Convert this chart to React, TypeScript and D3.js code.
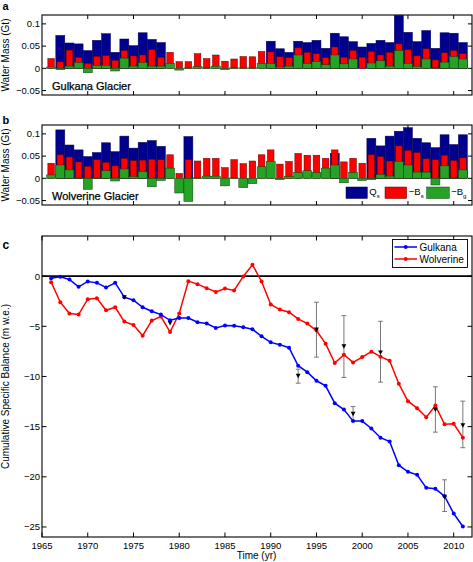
import React from "react";
import * as d3 from "d3";

// ---------- DATA ----------
const years: number[] = d3.range(1966, 2012);

// Panel a: Gulkana Glacier (Gt)
const gulkanaQs: (number | null)[] = [
  null, 0.074, 0.057, 0.055, 0.040, 0.063, 0.078, 0.036, 0.066, 0.051, 0.080, 0.065, 0.058,
  null, null, null, null, null, null, null, null, null, null, null,
  0.061, 0.044, 0.036, 0.061, 0.058, 0.063, 0.045, 0.079, 0.071, 0.060, 0.048,
  0.056, 0.063, 0.058, 0.119, 0.081, 0.060, 0.085, 0.045, 0.080, 0.079, 0.058,
];
const gulkanaBs: number[] = [
  0.022, 0.0145, 0.041, 0.025, 0.011, 0.027, 0.029, 0.018, 0.040, 0.028,
  0.030, 0.042, 0.025, 0.036, 0.015, 0.015, 0.033, 0.022, 0.030, 0.016,
  0.021, 0.0265, 0.026, 0.038, 0.037, 0.026, 0.024, 0.046, 0.036, 0.033,
  0.024, 0.048, 0.025, 0.040, 0.025, 0.038, 0.030, 0.036, 0.055, 0.042,
  0.028, 0.044, 0.019, 0.035, 0.040, 0.033,
];
const gulkanaBg: number[] = [
  0.003, -0.003, 0.005, 0.013, -0.010, 0.006, 0.007, -0.006, 0.023, 0.005,
  0.013, 0.005, 0.005, 0.011, -0.004, 0.001, 0.004, 0.001, 0.005, -0.003,
  0.001, 0.001, 0.001, 0.011, 0.011, 0.003, 0.005, 0.030, 0.011, 0.015,
  0.008, 0.030, 0.010, 0.021, 0.0, 0.012, 0.017, 0.005, 0.040, 0.011,
  0.004, 0.021, 0.001, 0.014, 0.0265, 0.021,
];

// Panel b: Wolverine Glacier (Gt)
const wolverineQs: (number | null)[] = [
  null, 0.109, 0.075, 0.064, 0.049, 0.058, 0.080, 0.060, 0.095, 0.068, 0.081, 0.085, 0.072,
  null, null, 0.094,
  null, null, null, null, null, null, null, null, null, null, null, null, null, null, null,
  0.056, null, null, null,
  0.090, 0.073, 0.095, 0.106, 0.114, 0.090, 0.080, 0.069, 0.098, 0.076, 0.098,
];
const wolverineBs: number[] = [
  0.034, 0.053, 0.048, 0.037, 0.027, 0.042, 0.036, 0.028, 0.045, 0.040,
  0.041, 0.043, 0.042, 0.053, 0.011, 0.042, 0.039, 0.045, 0.045, 0.024,
  0.042, 0.033, 0.039, 0.053, 0.064, 0.032, 0.038, 0.056, 0.052, 0.052,
  0.045, 0.064, 0.037, 0.045, 0.034, 0.053, 0.049, 0.039, 0.073, 0.063,
  0.058, 0.044, 0.042, 0.052, 0.040, 0.046,
];
const wolverineBg: number[] = [
  0.0076, 0.030, 0.019, 0.001, -0.025, 0.001, 0.017, -0.006, 0.021, 0.004,
  0.015, -0.019, -0.005, 0.023, -0.033, -0.052, 0.001, 0.005, 0.005, -0.017,
  0.001, -0.021, -0.012, 0.026, 0.038, -0.003, 0.004, 0.013, 0.017, 0.013,
  0.023, 0.030, -0.010, 0.013, -0.005, -0.003, 0.009, 0.005, 0.038, 0.030,
  0.014, 0.014, -0.015, 0.028, 0.001, 0.019,
];

// Panel c: cumulative specific balance (m w.e.)
const gulkanaCum: number[] = [
  -0.2, -0.07, -0.33, -1.07, -0.53, -0.67, -1.13, -0.67, -2.1, -2.4,
  -3.1, -3.5, -3.83, -4.4, -4.17, -4.17, -4.6, -4.73, -5.17, -4.93,
  -4.95, -5.1, -5.3, -6.0, -6.6, -6.83, -7.13, -8.93, -9.57, -10.43,
  -10.93, -12.66, -13.3, -14.45, -14.45, -15.18, -16.1, -16.48, -18.84, -19.5,
  -19.8, -21.1, -21.2, -21.93, -23.66, -24.95,
];
const wolverineCum: number[] = [
  -0.6, -2.6, -3.73, -3.83, -2.3, -2.2, -3.4, -3.1, -4.53, -4.87,
  -5.93, -4.43, -4.03, -5.57, -3.73, -0.5, -0.8, -1.2, -1.57, -1.23,
  -1.42, -0.03, 1.13, -0.53, -2.83, -3.33, -3.6, -4.27, -4.73, -5.43,
  -6.73, -8.67, -7.83, -8.6, -8.07, -7.53, -8.03, -8.43, -10.73, -12.46,
  -13.16, -14.06, -12.9, -14.76, -14.72, -16.1,
];

// Geodetic estimates with error bars
const geoYears: number[] = [1974, 1979, 1993, 1995, 1998, 1999, 2002, 2008, 2009, 2011];
const geoValues: number[] = [-2.1, -4.67, -9.93, -5.33, -7.0, -13.72, -7.6, -13.3, -22.0, -14.86];
const geoLower: number[] = [-2.1, -4.67, -10.67, -8.07, -10.1, -14.45, -10.57, -15.55, -23.46, -17.1];
const geoUpper: number[] = [-2.1, -4.67, -9.27, -2.6, -3.93, -13.0, -4.5, -11.03, -20.3, -12.46];

const massTicks: number[] = [-0.05, 0, 0.05, 0.1];
const massTickLabels: string[] = ["\u22120.05", "0", "0.05", "0.1"];
const yearTicks: number[] = [1965, 1970, 1975, 1980, 1985, 1990, 1995, 2000, 2005, 2010];
const cumTicks: number[] = [-25, -20, -15, -10, -5, 0];
const cumTickLabels: string[] = ["\u221225", "\u221220", "\u221215", "\u221210", "\u22125", "0"];

// ---------- STYLE ----------
const FONT = "'Liberation Sans', Arial, Helvetica, sans-serif";
const BLUE_BAR = "#00008e";
const RED_BAR = "#ff0000";
const GREEN_BAR = "#26a326";
const LINE_BLUE = "#0000ff";
const LINE_RED = "#ff0000";

const X0 = 42;
const X1 = 472;
const x = d3.scaleLinear().domain([1965, 2012]).range([X0, X1]);
const step = x(1966) - x(1965);

function BarPanel({
  top, bottom, qs, bs, bg, name, labelY, letter, letterY,
}: {
  top: number; bottom: number; qs: (number | null)[]; bs: number[]; bg: number[];
  name: string; labelY: number; letter: string; letterY: number;
}) {
  const y = d3.scaleLinear().domain([-0.06, 0.12]).range([bottom, top]);
  const y0 = y(0);
  const wFull = step * 0.98;
  const wRed = step * 0.72;
  const rect = (yr: number, v: number, w: number, fill: string, stroke: string, key: string) => {
    const yv = y(v);
    return (
      <rect key={key} x={x(yr) - w / 2} y={Math.min(yv, y0)} width={w}
        height={Math.abs(yv - y0)} fill={fill} stroke={stroke} strokeWidth={0.5} />
    );
  };
  return (
    <g>
      <text x={2.5} y={letterY} fontFamily={FONT} fontWeight="bold" fontSize={11}>{letter}</text>
      {years.map((yr, i) => (qs[i] != null ? rect(yr, qs[i] as number, wFull, BLUE_BAR, "#000050", "q" + i) : null))}
      {years.map((yr, i) => rect(yr, bs[i], wRed, RED_BAR, "#600000", "r" + i))}
      {years.map((yr, i) => (Math.abs(bg[i]) > 0.0005 ? rect(yr, bg[i], wFull, GREEN_BAR, "#0c400c", "g" + i) : null))}
      {/* frame */}
      <rect x={X0} y={top} width={X1 - X0} height={bottom - top} fill="none" stroke="#000" strokeWidth={1.1} />
      {yearTicks.slice(1).map((t) => (
        <g key={"xt" + t}>
          <line x1={x(t)} x2={x(t)} y1={bottom} y2={bottom - 4} stroke="#000" strokeWidth={1} />
          <line x1={x(t)} x2={x(t)} y1={top} y2={top + 4} stroke="#000" strokeWidth={1} />
        </g>
      ))}
      {massTicks.map((t, i) => (
        <g key={"yt" + t}>
          <line x1={X0} x2={X0 + 4} y1={y(t)} y2={y(t)} stroke="#000" strokeWidth={1} />
          <line x1={X1} x2={X1 - 4} y1={y(t)} y2={y(t)} stroke="#000" strokeWidth={1} />
          <text x={40} y={y(t) + 3.3} textAnchor="end" fontFamily={FONT} fontSize={9.5}>{massTickLabels[i]}</text>
        </g>
      ))}
      <text transform={`translate(8.5,${(top + bottom) / 2}) rotate(-90)`} textAnchor="middle"
        fontFamily={FONT} fontSize={10}>Water Mass (Gt)</text>
      <text x={52} y={labelY} fontFamily={FONT} fontSize={11} stroke="#000" strokeWidth={0.25}>{name}</text>
    </g>
  );
}

function SubLabel({ x: lx, y: ly, main, sub }: { x: number; y: number; main: string; sub: string }) {
  return (
    <text x={lx} y={ly} fontFamily={FONT} fontSize={9.5}>
      {main}
      <tspan fontSize={6} dy={2.5}>{sub}</tspan>
    </text>
  );
}

function CumPanel() {
  const top = 236;
  const bottom = 537;
  const y = d3.scaleLinear().domain([-26, 4]).range([bottom, top]);
  const line = d3.line<number>().x((_, i) => x(years[i])).y((d) => y(d));
  return (
    <g>
      <text x={2.5} y={249} fontFamily={FONT} fontWeight="bold" fontSize={12}>c</text>
      <line x1={X0} x2={X1} y1={y(0)} y2={y(0)} stroke="#000" strokeWidth={1.6} />
      {/* error bars */}
      {geoYears.map((yr, i) =>
        geoUpper[i] !== geoLower[i] ? (
          <g key={"eb" + i} stroke="#6a6a6a" strokeWidth={0.9}>
            <line x1={x(yr)} x2={x(yr)} y1={y(geoUpper[i])} y2={y(geoLower[i])} />
            <line x1={x(yr) - 2.4} x2={x(yr) + 2.4} y1={y(geoUpper[i])} y2={y(geoUpper[i])} />
            <line x1={x(yr) - 2.4} x2={x(yr) + 2.4} y1={y(geoLower[i])} y2={y(geoLower[i])} />
          </g>
        ) : null
      )}
      <path d={line(wolverineCum) || ""} fill="none" stroke={LINE_RED} strokeWidth={1.5} />
      {wolverineCum.map((v, i) => (
        <circle key={"wc" + i} cx={x(years[i])} cy={y(v)} r={2} fill={LINE_RED} />
      ))}
      <path d={line(gulkanaCum) || ""} fill="none" stroke={LINE_BLUE} strokeWidth={1.5} />
      {gulkanaCum.map((v, i) => (
        <circle key={"gc" + i} cx={x(years[i])} cy={y(v)} r={2} fill={LINE_BLUE} />
      ))}
      {geoYears.map((yr, i) => {
        const cx = x(yr);
        const cy = y(geoValues[i]);
        return (
          <path key={"tri" + i} d={`M${cx - 2.4},${cy - 2} L${cx + 2.4},${cy - 2} L${cx},${cy + 2.4} Z`} fill="#000" />
        );
      })}
      {/* frame */}
      <rect x={X0} y={top} width={X1 - X0} height={bottom - top} fill="none" stroke="#000" strokeWidth={1.1} />
      {yearTicks.map((t) => (
        <g key={"cx" + t}>
          <line x1={x(t)} x2={x(t)} y1={bottom} y2={bottom - 4.5} stroke="#000" strokeWidth={1} />
          <line x1={x(t)} x2={x(t)} y1={top} y2={top + 4.5} stroke="#000" strokeWidth={1} />
          <text x={x(t)} y={549} textAnchor="middle" fontFamily={FONT} fontSize={9.5}>{t}</text>
        </g>
      ))}
      {cumTicks.map((t, i) => (
        <g key={"cy" + t}>
          <line x1={X0} x2={X0 + 4.5} y1={y(t)} y2={y(t)} stroke="#000" strokeWidth={1} />
          <line x1={X1} x2={X1 - 4.5} y1={y(t)} y2={y(t)} stroke="#000" strokeWidth={1} />
          <text x={40} y={y(t) + 3.4} textAnchor="end" fontFamily={FONT} fontSize={9.5}>{cumTickLabels[i]}</text>
        </g>
      ))}
      <text transform={`translate(9,${(top + bottom) / 2}) rotate(-90)`} textAnchor="middle"
        fontFamily={FONT} fontSize={10}>Cumulative Specific Balance (m w.e.)</text>
      <text x={256.5} y={558.5} textAnchor="middle" fontFamily={FONT} fontSize={10}>Time (yr)</text>
      {/* legend */}
      <rect x={392.5} y={239.5} width={75} height={28} fill="#fff" stroke="#000" strokeWidth={0.9} />
      <line x1={394.5} x2={417} y1={247} y2={247} stroke={LINE_BLUE} strokeWidth={1.5} />
      <circle cx={405.7} cy={247} r={2} fill={LINE_BLUE} />
      <text x={419.5} y={250.5} fontFamily={FONT} fontSize={10}>Gulkana</text>
      <line x1={394.5} x2={417} y1={259} y2={259} stroke={LINE_RED} strokeWidth={1.5} />
      <circle cx={405.7} cy={259} r={2} fill={LINE_RED} />
      <text x={419.5} y={262.5} fontFamily={FONT} fontSize={10}>Wolverine</text>
    </g>
  );
}

export default function App() {
  return (
    <div style={{ position: "absolute", left: 0, top: 0, width: 473, height: 562, background: "#fff" }}>
      <svg width={473} height={562} style={{ display: "block" }}>
        <rect width={473} height={562} fill="#fff" />
        <BarPanel top={15} bottom={95} qs={gulkanaQs} bs={gulkanaBs} bg={gulkanaBg}
          name="Gulkana Glacier" labelY={89.5} letter="a" letterY={10} />
        <BarPanel top={125} bottom={205} qs={wolverineQs} bs={wolverineBs} bg={wolverineBg}
          name="Wolverine Glacier" labelY={199.5} letter="b" letterY={123.5} />
        {/* panel b legend */}
        <rect x={346} y={187} width={21.3} height={11.5} fill={BLUE_BAR} stroke="#000050" strokeWidth={0.5} />
        <SubLabel x={369.3} y={195} main="Q" sub="s" />
        <rect x={385} y={187} width={21.7} height={11.5} fill={RED_BAR} stroke="#600000" strokeWidth={0.5} />
        <SubLabel x={408.8} y={195} main={"\u2212B"} sub="s" />
        <rect x={426.7} y={187} width={22.6} height={11.5} fill={GREEN_BAR} stroke="#0c400c" strokeWidth={0.5} />
        <SubLabel x={451.2} y={195} main={"\u2212B"} sub="g" />
        <CumPanel />
      </svg>
    </div>
  );
}
